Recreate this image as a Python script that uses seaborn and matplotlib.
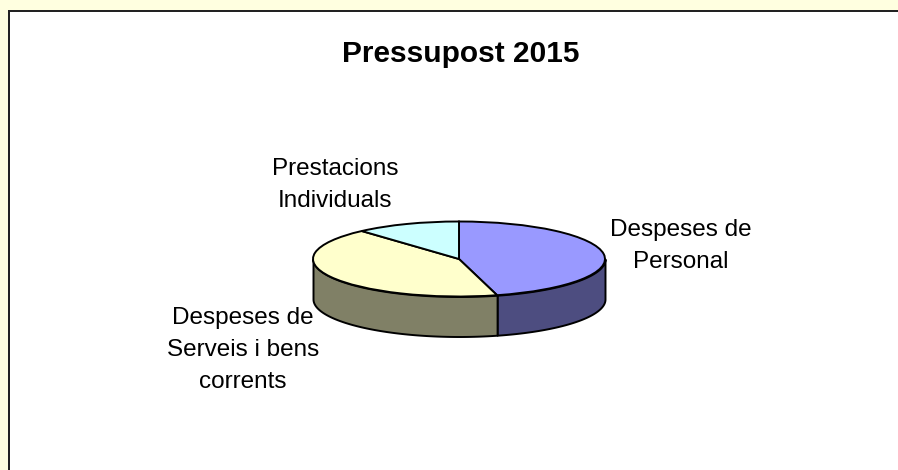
import numpy as np
import matplotlib
matplotlib.use('Agg')  # Non-interactive backend
import matplotlib.pyplot as plt
from matplotlib.patches import Rectangle
import seaborn as sns

# Shares (percent of the budget)
categories = ['Despeses de\nPersonal', 'Despeses de\nServeis i bens\ncorrents', 'Prestacions\nIndividuals']
shares = [45.8, 42.6, 11.6]
top_colors = ['#9999FF', '#FFFFCC', '#CCFFFF']
side_colors = ['#4D4D80', '#808066', '#668080']
title = 'Pressupost 2015'

W, H = 898, 470
CX, CY = 459, 259     # ellipse centre, px
RX, RY = 146, 37.5    # ellipse radii, px
DEPTH = 40 / RY       # wall height in data units

sns.set_theme(style='white')
plt.rcParams['font.family'] = ['Liberation Sans', 'DejaVu Sans']

fig = plt.figure(figsize=(W / 100, H / 100), dpi=100, facecolor='#FFFFE0')

# White chart area with a dark line on the left and top only
fig.add_artist(Rectangle((9 / W, 0), 1, 1 - 11 / H, transform=fig.transFigure,
                         facecolor='white', edgecolor='none', zorder=-2))
fig.add_artist(Rectangle((8 / W, 0), 1.5 / W, 1 - 10 / H, transform=fig.transFigure,
                         facecolor='#222222', edgecolor='none', zorder=-1))
fig.add_artist(Rectangle((8 / W, 1 - 11.5 / H), 1, 1.5 / H, transform=fig.transFigure,
                         facecolor='#222222', edgecolor='none', zorder=-1))

ax = fig.add_axes([0, 0, 1, 1])
ax.patch.set_alpha(0)

ax.pie(shares, colors=top_colors, startangle=90, counterclock=False,
       wedgeprops={'edgecolor': 'black', 'linewidth': 1.4, 'zorder': 3})

# Squash the pie into an ellipse and line it up with the figure pixels
ax.set_aspect('auto')
ax.set_xlim(-CX / RX, (W - CX) / RX)
ax.set_ylim(-(H - CY) / RY, CY / RY)
ax.set_axis_off()

# Side walls: only the front half of each slice can be seen
edges = np.cumsum([0] + shares) * 3.6
for start, end, color in zip(edges[:-1], edges[1:], side_colors):
    lo, hi = max(start, 90), min(end, 270)
    if lo >= hi:
        continue
    theta = np.radians(np.linspace(lo, hi, 80))
    x, y = np.sin(theta), np.cos(theta)
    ax.fill_between(x, y, y - DEPTH, facecolor=color, edgecolor='black',
                    linewidth=1.4, zorder=2)

fig.text(461 / W, 1 - 54 / H, title, ha='center', va='center',
         fontsize=21.5, fontweight='bold', color='black')

label_pos = [(681, 246), (243, 350), (335, 185)]
for text, (px, py) in zip(categories, label_pos):
    fig.text(px / W, 1 - py / H, text, ha='center', va='center',
             fontsize=17.5, linespacing=1.6, color='black')

fig.savefig('out.png', dpi=100)
